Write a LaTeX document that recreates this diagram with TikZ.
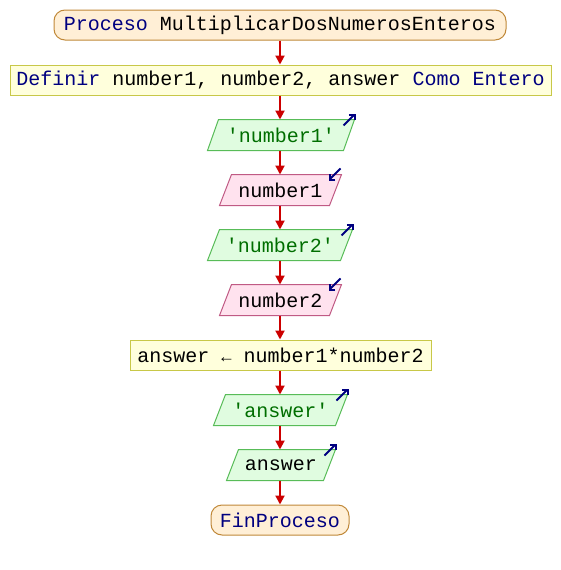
\documentclass[tikz,border=0pt]{standalone}
\usepackage{fontspec}
\setmonofont{Liberation Mono}
\usetikzlibrary{arrows.meta,backgrounds}
\definecolor{kw}{HTML}{000080}
\definecolor{strc}{HTML}{006E00}
\definecolor{flow}{HTML}{CC0000}
\definecolor{termfill}{HTML}{FFEFD6}
\definecolor{termdraw}{HTML}{C08838}
\definecolor{procfill}{HTML}{FFFFDC}
\definecolor{procdraw}{HTML}{C8C848}
\definecolor{outfill}{HTML}{E0FCE0}
\definecolor{outdraw}{HTML}{58BC58}
\definecolor{infill}{HTML}{FFE2EE}
\definecolor{indraw}{HTML}{C05A84}
\definecolor{icon}{HTML}{000080}
\newcommand\drawpara[3]{%
  \begin{scope}[on background layer]
    \path[#2] ([xshift=#3pt]#1.north west) -- (#1.north east) -- ([xshift=-#3pt]#1.south east) -- (#1.south west) -- cycle;
  \end{scope}}
\begin{document}
\begin{tikzpicture}[x=1pt,y=-1pt,
  font=\ttfamily\fontsize{20}{20}\selectfont,
  box/.style={minimum height=30pt,inner sep=0pt,line width=1pt},
  term/.style={box,draw=termdraw,fill=termfill,rounded corners=11pt},
  proc/.style={box,draw=procdraw,fill=procfill},
  iobox/.style={box},
  outshape/.style={draw=outdraw,fill=outfill,line width=1pt},
  inshape/.style={draw=indraw,fill=infill,line width=1pt},
  conn/.style={draw=flow,line width=2pt,-{Triangle[length=9pt,width=9pt]}},
  ico/.style={draw=icon,line width=2pt,-{Straight Barb[length=4pt,width=8pt]}}]
\useasboundingbox (0,0) rectangle (560,570);
\node[term,minimum width=452pt] (start) at (280,25) {\textcolor{kw}{Proceso} MultiplicarDosNumerosEnteros};
\node[proc,minimum width=541pt] (def) at (280.5,80) {\textcolor{kw}{Definir} number1, number2, answer \textcolor{kw}{Como Entero}};
\node[iobox,minimum width=146pt] (out1) at (281,135) {\textcolor{strc}{'number1'}};
\node[iobox,minimum width=121pt] (in1) at (280.5,190) {number1};
\node[iobox,minimum width=144pt] (out2) at (280,245) {\textcolor{strc}{'number2'}};
\node[iobox,minimum width=121pt] (in2) at (280.5,300) {number2};
\node[proc,minimum width=301pt] (asg) at (280.5,355) {answer \scalebox{0.85}{←} number1*number2};
\node[iobox,minimum width=133pt] (out3) at (280.5,410) {\textcolor{strc}{'answer'}};
\node[iobox,minimum width=108pt] (out4) at (281,465) {answer};
\node[term,minimum width=138pt] (end) at (280,520) {\textcolor{kw}{FinProceso}};
\drawpara{out1}{outshape}{11}
\drawpara{in1}{inshape}{12}
\drawpara{out2}{outshape}{12}
\drawpara{in2}{inshape}{12}
\drawpara{out3}{outshape}{12}
\drawpara{out4}{outshape}{12}
% connectors
\coordinate (cx) at (280,0);
\draw[conn] (start.south -| cx) -- (def.north -| cx);
\draw[conn] (def.south -| cx) -- (out1.north -| cx);
\draw[conn] (out1.south -| cx) -- (in1.north -| cx);
\draw[conn] (in1.south -| cx) -- (out2.north -| cx);
\draw[conn] (out2.south -| cx) -- (in2.north -| cx);
\draw[conn] (in2.south -| cx) -- (asg.north -| cx);
\draw[conn] (asg.south -| cx) -- (out3.north -| cx);
\draw[conn] (out3.south -| cx) -- (out4.north -| cx);
\draw[conn] (out4.south -| cx) -- (end.north -| cx);
% io icons
\draw[ico] ([shift={(-11,6)}]out1.north east) -- ([shift={(1,-6)}]out1.north east);
\draw[ico] ([shift={(-1,-6)}]in1.north east) -- ([shift={(-13,6)}]in1.north east);
\draw[ico] ([shift={(-11,6)}]out2.north east) -- ([shift={(1,-6)}]out2.north east);
\draw[ico] ([shift={(-1,-6)}]in2.north east) -- ([shift={(-13,6)}]in2.north east);
\draw[ico] ([shift={(-11,6)}]out3.north east) -- ([shift={(1,-6)}]out3.north east);
\draw[ico] ([shift={(-11,6)}]out4.north east) -- ([shift={(1,-6)}]out4.north east);
\end{tikzpicture}
\end{document}
